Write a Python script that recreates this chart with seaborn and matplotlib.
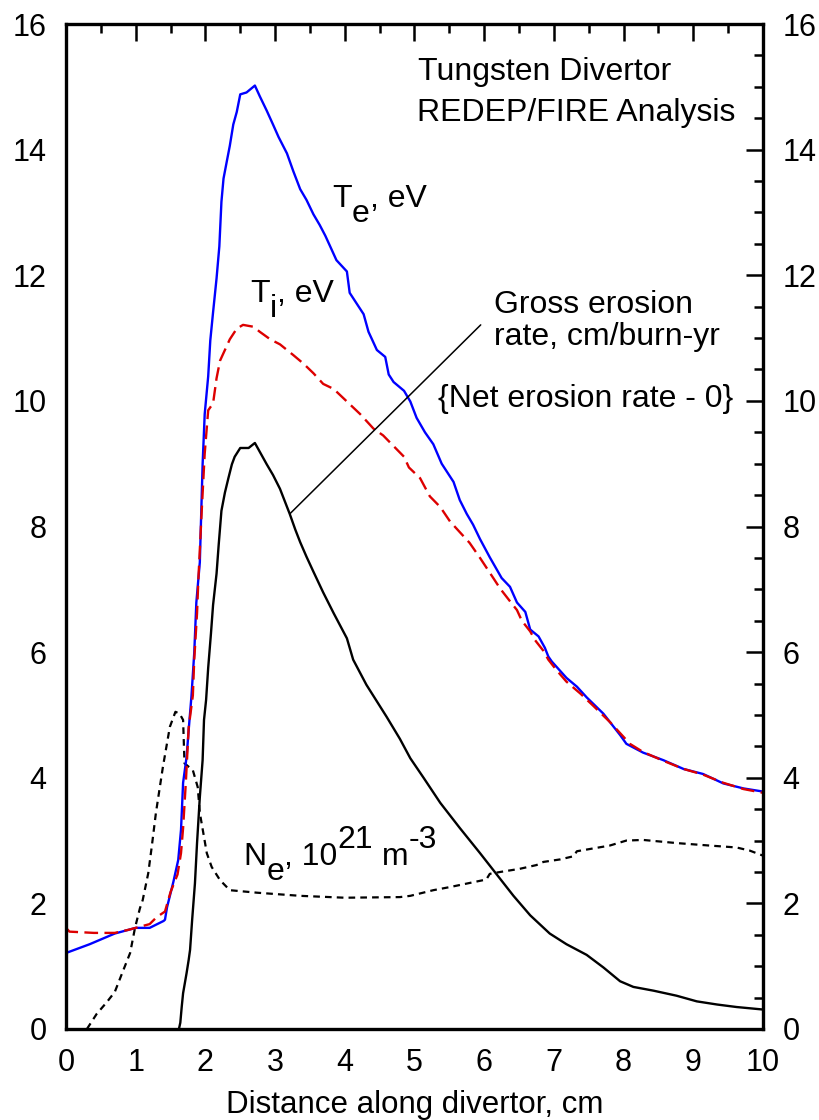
import matplotlib
matplotlib.use("Agg")
import matplotlib.pyplot as plt
from matplotlib.ticker import MultipleLocator
import seaborn as sns

# ---------------- data ----------------
TE_X = [0.0, 0.34, 0.7, 1.0, 1.2, 1.40, 1.42, 1.45, 1.54, 1.61, 1.65, 1.68, 1.73, 1.76, 1.80, 1.84,
        1.87, 1.92, 1.96, 1.99, 2.04, 2.07, 2.11, 2.16, 2.20, 2.23, 2.26, 2.31, 2.35, 2.40, 2.45,
        2.50, 2.59, 2.71, 2.78, 2.88, 2.97, 3.05, 3.17, 3.26, 3.36, 3.45, 3.55, 3.64, 3.72, 3.79,
        3.88, 4.03, 4.07, 4.17, 4.27, 4.34, 4.39, 4.46, 4.58, 4.63, 4.70, 4.85, 4.94, 5.03, 5.15,
        5.27, 5.39, 5.56, 5.65, 5.75, 5.84, 5.94, 6.08, 6.25, 6.37, 6.47, 6.59, 6.66, 6.78, 6.87,
        6.92, 6.97, 7.18, 7.33, 7.47, 7.71, 7.95, 8.04, 8.28, 8.57, 8.86, 9.14, 9.43, 9.72, 10.0]
TE_Y = [1.21, 1.35, 1.52, 1.61, 1.61, 1.72, 1.74, 1.94, 2.34, 2.69, 3.17, 3.92, 4.33, 4.76, 5.30, 5.99,
        6.79, 7.43, 8.99, 9.79, 10.39, 10.96, 11.41, 11.95, 12.46, 13.17, 13.54, 13.83, 14.06, 14.40, 14.60,
        14.88, 14.91, 15.02, 14.85, 14.62, 14.40, 14.20, 13.94, 13.66, 13.37, 13.20, 12.97, 12.80, 12.63, 12.46,
        12.24, 12.06, 11.72, 11.55, 11.38, 11.10, 10.98, 10.81, 10.70, 10.42, 10.30, 10.16, 9.99, 9.73, 9.50,
        9.31, 9.00, 8.71, 8.42, 8.20, 8.03, 7.80, 7.51, 7.18, 7.04, 6.79, 6.64, 6.36, 6.25, 6.07,
        5.93, 5.85, 5.59, 5.45, 5.28, 5.02, 4.68, 4.54, 4.40, 4.28, 4.14, 4.06, 3.91, 3.83, 3.78]

TI_X = [0.0, 0.05, 0.4, 0.7, 0.9, 1.0, 1.2, 1.3, 1.42, 1.5, 1.6, 1.65, 1.68, 1.72, 1.76, 1.82,
        1.84, 1.88, 1.90, 1.95, 1.99, 2.04, 2.11, 2.16, 2.21, 2.28, 2.35, 2.45, 2.54, 2.69, 2.78,
        2.93, 3.07, 3.26, 3.41, 3.55, 3.69, 3.84, 4.03, 4.22, 4.41, 4.55, 4.70, 4.85, 4.92, 5.08,
        5.22, 5.37, 5.51, 5.65, 5.79, 5.94, 6.13, 6.23, 6.37, 6.47, 6.54, 6.66, 6.73, 6.85, 6.92,
        7.04, 7.18, 7.38, 7.57, 7.81, 8.0, 8.09, 8.28, 8.57, 8.86, 9.14, 9.43, 9.72, 10.0]
TI_Y = [1.61, 1.55, 1.53, 1.53, 1.58, 1.61, 1.67, 1.78, 1.87, 2.18, 2.46, 2.80, 3.20, 3.94, 4.80, 5.31,
        5.88, 6.62, 7.18, 8.31, 9.16, 9.85, 9.96, 10.36, 10.64, 10.81, 10.98, 11.15, 11.21, 11.18, 11.10,
        10.98, 10.90, 10.73, 10.59, 10.44, 10.27, 10.19, 9.99, 9.79, 9.56, 9.45, 9.28, 9.11, 8.94, 8.77,
        8.48, 8.31, 8.08, 7.91, 7.74, 7.50, 7.18, 7.01, 6.81, 6.67, 6.50, 6.33, 6.19, 6.02, 5.88,
        5.71, 5.53, 5.34, 5.14, 4.88, 4.65, 4.54, 4.41, 4.27, 4.14, 4.05, 3.92, 3.82, 3.76]

GR_X = [1.62, 1.64, 1.66, 1.68, 1.73, 1.76, 1.78, 1.81, 1.85, 1.88, 1.92, 1.96, 1.98, 2.01, 2.04,
        2.08, 2.11, 2.16, 2.19, 2.23, 2.28, 2.33, 2.38, 2.42, 2.50, 2.62, 2.71, 2.78, 2.88, 2.97,
        3.07, 3.14, 3.21, 3.29, 3.36, 3.45, 3.55, 3.69, 3.84, 4.03, 4.12, 4.31, 4.60, 4.79, 4.94,
        5.13, 5.37, 5.65, 5.94, 6.18, 6.42, 6.66, 6.94, 7.18, 7.47, 7.71, 7.95, 8.14, 8.43, 8.76,
        9.05, 9.34, 9.62, 10.0]
GR_Y = [0.0, 0.10, 0.35, 0.57, 0.89, 1.10, 1.26, 1.74, 2.32, 2.96, 3.69, 4.28, 4.92, 5.24, 5.75,
        6.30, 6.75, 7.25, 7.70, 8.25, 8.54, 8.77, 8.99, 9.11, 9.25, 9.25, 9.33, 9.19, 8.99, 8.82,
        8.60, 8.40, 8.20, 7.95, 7.75, 7.52, 7.28, 6.95, 6.62, 6.22, 5.88, 5.48, 4.97, 4.62, 4.31,
        4.00, 3.60, 3.20, 2.80, 2.46, 2.12, 1.81, 1.52, 1.35, 1.18, 0.98, 0.76, 0.67, 0.61, 0.53,
        0.44, 0.39, 0.35, 0.31]

NE_X = [0.30, 0.44, 0.58, 0.70, 0.82, 0.92, 0.99, 1.06, 1.10, 1.18, 1.23, 1.29, 1.39, 1.49, 1.57,
        1.63, 1.68, 1.70, 1.82, 1.89, 1.92, 1.95, 2.02, 2.09, 2.21, 2.35, 2.74, 3.36, 4.0, 4.79,
        4.94, 5.27, 5.51, 6.03, 6.08, 6.23, 6.51, 6.75, 6.85, 7.09, 7.28, 7.33, 7.80, 8.04, 8.28,
        8.76, 9.24, 9.62, 9.81, 10.0]
NE_Y = [0.0, 0.24, 0.42, 0.59, 0.93, 1.21, 1.61, 1.92, 2.05, 2.48, 2.90, 3.44, 4.17, 4.81, 5.05,
        5.02, 4.92, 4.23, 4.12, 3.85, 3.44, 3.25, 2.80, 2.58, 2.37, 2.21, 2.17, 2.12, 2.09, 2.10,
        2.12, 2.21, 2.26, 2.38, 2.47, 2.50, 2.55, 2.61, 2.66, 2.70, 2.75, 2.83, 2.92, 3.00, 3.01,
        2.96, 2.92, 2.89, 2.84, 2.76]

LEADER_X = [3.21, 5.95]
LEADER_Y = [8.20, 11.21]

X_TICKS = [0, 1, 2, 3, 4, 5, 6, 7, 8, 9, 10]
Y_TICKS = [0, 2, 4, 6, 8, 10, 12, 14, 16]
X_LABEL = "Distance along divertor, cm"

# ---------------- style ----------------
sns.set_theme(style="white")
plt.rcParams["font.family"] = ["Liberation Sans", "DejaVu Sans"]
plt.rcParams.update({
    "text.color": "black", "axes.labelcolor": "black", "axes.edgecolor": "black",
    "xtick.color": "black", "ytick.color": "black",
})

fig = plt.figure(figsize=(8.2, 11.2), dpi=100)
ax = fig.add_axes([66 / 820, 1 - 1029 / 1120, (763 - 66) / 820, (1029 - 24) / 1120])

sns.lineplot(x=NE_X, y=NE_Y, ax=ax, color="black", linewidth=1.6,
             linestyle=(0, (3.0, 2.3)), estimator=None, sort=False)
sns.lineplot(x=GR_X, y=GR_Y, ax=ax, color="black", linewidth=1.7, estimator=None, sort=False)
sns.lineplot(x=TE_X, y=TE_Y, ax=ax, color="#0000ff", linewidth=1.7, estimator=None, sort=False)
sns.lineplot(x=TI_X, y=TI_Y, ax=ax, color="#dd0000", linewidth=1.7,
             linestyle=(0, (5.8, 2.7)), estimator=None, sort=False)
sns.lineplot(x=LEADER_X, y=LEADER_Y, ax=ax, color="black", linewidth=1.1, estimator=None, sort=False)

ax.set_xlim(0, 10)
ax.set_ylim(0, 16)
ax.set_xticks(X_TICKS)
ax.set_yticks(Y_TICKS)
ax.xaxis.set_minor_locator(MultipleLocator(0.5))
ax.yaxis.set_minor_locator(MultipleLocator(0.5))
ax.tick_params(which="both", direction="in", top=True, right=True,
               labelright=True, width=1.8, labelsize=22)
ax.tick_params(which="major", length=12)
ax.tick_params(which="minor", length=6.5)
ax.tick_params(axis="x", pad=14)
ax.tick_params(axis="y", pad=14)
for sp in ax.spines.values():
    sp.set_linewidth(2.4)
    sp.set_color("black")
ax.set_xlabel(X_LABEL, fontsize=22.5, labelpad=8)
ax.set_ylabel("")

# ---------------- annotations ----------------
FS = 23
ax.text(5.05, 15.11, "Tungsten Divertor", fontsize=FS, ha="left", va="baseline")
ax.text(5.04, 14.46, "REDEP/FIRE Analysis", fontsize=FS, ha="left", va="baseline")
ax.text(6.14, 11.40, "Gross erosion", fontsize=FS, ha="left", va="baseline")
ax.text(6.14, 10.89, "rate, cm/burn-yr", fontsize=FS, ha="left", va="baseline")
ax.text(5.34, 9.90, "{Net erosion rate - 0}", fontsize=FS, ha="left", va="baseline")

renderer = fig.canvas.get_renderer()


def compound(x, y, pieces):
    dx = 0.0
    for s, dy in pieces:
        t = ax.annotate(s, xy=(x, y), xycoords="data", xytext=(dx, dy),
                        textcoords="offset points", ha="left", va="baseline", fontsize=FS)
        dx += t.get_window_extent(renderer=renderer).width * 72 / fig.dpi


compound(3.82, 13.09, [("T", 0), ("e", -11), (", eV", 0)])
compound(2.65, 11.58, [("T", 0), ("i", -11), (", eV", 0)])
compound(2.54, 2.61, [("N", 0), ("e", -11), (", 10", 0), ("21", 12), (" m", 0), ("-3", 12)])

fig.savefig("out.png", dpi=100)
